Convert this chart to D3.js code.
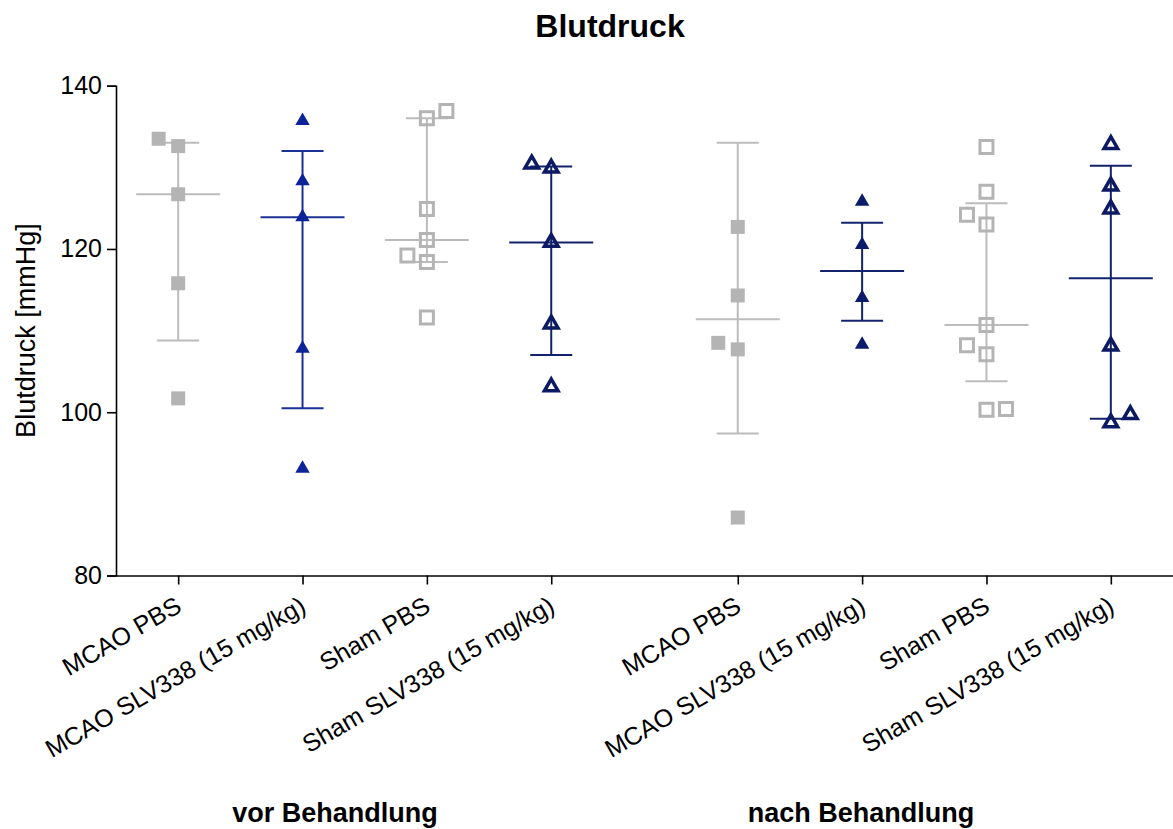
<!DOCTYPE html>
<html>
<head>
<meta charset="utf-8">
<script src="https://cdn.jsdelivr.net/npm/d3@7"></script>
<style>
  body { margin: 0; background: #fff; }
  text { font-family: Arial, "Liberation Sans", sans-serif; fill: #000; }
</style>
</head>
<body>
<div id="chart"></div>
<script>

// Data
var categories = ['MCAO PBS', 'MCAO SLV338 (15 mg/kg)', 'Sham PBS', 'Sham SLV338 (15 mg/kg)'];
var phases = ['vor Behandlung', 'nach Behandlung'];

var values = [
  [133.5, 132.6, 126.7, 115.8, 101.7],
  [135.7, 128.3, 123.9, 107.8, 93.1],
  [136.0, 136.9, 124.9, 121.1, 119.2, 118.4, 111.6],
  [130.4, 129.9, 120.8, 110.8, 103.1],
  [122.7, 114.3, 108.5, 107.7, 87.1],
  [125.8, 120.5, 114.0, 108.3],
  [132.5, 127.0, 124.2, 123.0, 110.7, 108.2, 107.1, 100.3, 100.4],
  [132.8, 127.7, 124.9, 108.1, 99.7, 98.7]
];

// Side slot of each point (scatter spread for overlapping points)
var sides = [
  [-1, 0, 0, 0, 0],
  [0, 0, 0, 0, 0],
  [0, 1, 0, 0, -1, 0, 0],
  [-1, 0, 0, 0, 0],
  [0, 0, -1, 0, 0],
  [0, 0, 0, 0],
  [0, 0, -1, 0, 0, -1, 0, 0, 1],
  [0, 0, 0, 0, 1, 0]
];

var medians = [126.7, 123.9, 121.1, 120.8, 111.4, 117.3, 110.7, 116.4];
var upper = [133.0, 132.0, 136.0, 130.1, 133.0, 123.2, 125.6, 130.2];
var lower = [108.8, 100.5, 118.4, 107.0, 97.4, 111.2, 103.8, 99.2];

var yTicks = [80, 100, 120, 140];

// Build groups: position on the x axis leaves a gap between phases
var groups = [];
phases.forEach(function(phase, p) {
  categories.forEach(function(cat, c) {
    var i = p * categories.length + c;
    groups.push({ index: i, phase: p, cat: c, name: cat,
                  pos: c + p * (categories.length + 0.5),
                  values: values[i], sides: sides[i],
                  median: medians[i], upper: upper[i], lower: lower[i] });
  });
});

// Chart size
var width = 1173, height = 829;
var svg = d3.select('#chart')
            .append('svg')
            .attr('width', width)
            .attr('height', height);

var x = d3.scaleLinear()
    .domain([-0.5, 8])
    .range([116, 1173]);

var y = d3.scaleLinear()
    .domain([80, 140])
    .range([575.5, 85.7]);

// Styles of each category
var gray = '#b4b4b4';
function colorOf(g) {
  if (g.cat == 0 || g.cat == 2) return gray;
  if (g.cat == 1) return g.phase == 0 ? '#0c2497' : '#0b1c6c';
  return '#0b1a62';
}
function lineColorOf(g) {
  if (g.cat == 0 || g.cat == 2) return '#bcbcbc';
  if (g.cat == 1) return g.phase == 0 ? '#1b3195' : '#14236e';
  return '#12226a';
}

// Axes
svg.append('g')
   .attr('transform', 'translate(116,0)')
   .call(d3.axisLeft(y).tickValues(yTicks).tickSize(9).tickPadding(5))
   .call(function(g) {
     g.select('.domain').attr('stroke-width', 1.6);
     g.selectAll('.tick line').attr('stroke-width', 1.6);
     g.selectAll('.tick text').style('font-size', '25px')
      .style('font-family', 'Arial, "Liberation Sans", sans-serif');
   });

var xAxis = d3.axisBottom(x)
    .tickValues(groups.map(function(g) { return g.pos; }))
    .tickSize(9)
    .tickSizeOuter(0)
    .tickFormat('');
svg.append('g')
   .attr('transform', 'translate(0,575.5)')
   .call(xAxis)
   .call(function(g) {
     g.select('.domain').attr('stroke-width', 1.6);
     g.selectAll('.tick line').attr('stroke-width', 1.6);
   });

// Rotated category labels
svg.append('g')
   .selectAll('text')
   .data(groups)
   .enter()
   .append('text')
   .attr('transform', function(d) {
     return 'translate(' + (x(d.pos) - 4) + ',595) rotate(-30)';
   })
   .attr('text-anchor', 'end')
   .attr('dy', '0.72em')
   .style('font-size', '25px')
   .text(function(d) { return d.name; });

// Phase labels
svg.append('g')
   .selectAll('text')
   .data(phases)
   .enter()
   .append('text')
   .attr('x', function(d, i) { return i == 0 ? 335 : 861; })
   .attr('y', 822)
   .attr('text-anchor', 'middle')
   .style('font-size', '27px')
   .style('font-weight', 'bold')
   .text(function(d) { return d; });

// Title
svg.append('text')
   .attr('x', 610)
   .attr('y', 37)
   .attr('text-anchor', 'middle')
   .style('font-size', '32px')
   .style('font-weight', 'bold')
   .text('Blutdruck');

// Y axis title
svg.append('text')
   .attr('transform', 'translate(35,' + ((y(80) + y(140)) / 2) + ') rotate(-90)')
   .attr('text-anchor', 'middle')
   .style('font-size', '27px')
   .text('Blutdruck [mmHg]');

// Median and interquartile range
var bars = svg.append('g')
              .selectAll('g')
              .data(groups)
              .enter()
              .append('g')
              .attr('stroke', lineColorOf)
              .attr('stroke-width', 2);

bars.append('line')
    .attr('x1', function(d) { return x(d.pos); })
    .attr('x2', function(d) { return x(d.pos); })
    .attr('y1', function(d) { return y(d.upper); })
    .attr('y2', function(d) { return y(d.lower); });
bars.append('line')
    .attr('x1', function(d) { return x(d.pos) - 42; })
    .attr('x2', function(d) { return x(d.pos) + 42; })
    .attr('y1', function(d) { return y(d.median); })
    .attr('y2', function(d) { return y(d.median); });
[ 'upper', 'lower' ].forEach(function(k) {
  bars.append('line')
      .attr('x1', function(d) { return x(d.pos) - 21; })
      .attr('x2', function(d) { return x(d.pos) + 21; })
      .attr('y1', function(d) { return y(d[k]); })
      .attr('y2', function(d) { return y(d[k]); });
});

// Points
var points = [];
groups.forEach(function(g) {
  g.values.forEach(function(v, j) {
    points.push({ group: g, value: v, side: g.sides[j] });
  });
});

var symbolFilledSquare = d3.symbol().type(d3.symbolSquare).size(196);
var symbolOpenSquare = d3.symbol().type(d3.symbolSquare).size(169);
var symbolFilledTriangle = d3.symbol().type(d3.symbolTriangle).size(90);
var symbolOpenTriangle = d3.symbol().type(d3.symbolTriangle).size(80);

svg.append('g')
   .selectAll('path')
   .data(points)
   .enter()
   .append('path')
   .attr('transform', function(d) {
     return 'translate(' + (x(d.group.pos) + d.side * 19.5) + ',' + y(d.value) + ')';
   })
   .attr('d', function(d) {
     var c = d.group.cat;
     if (c == 0) return symbolFilledSquare();
     if (c == 1) return symbolFilledTriangle();
     if (c == 2) return symbolOpenSquare();
     return symbolOpenTriangle();
   })
   .attr('fill', function(d) {
     return (d.group.cat == 0 || d.group.cat == 1) ? colorOf(d.group) : 'none';
   })
   .attr('stroke', function(d) {
     return (d.group.cat == 2 || d.group.cat == 3) ? colorOf(d.group) : 'none';
   })
   .attr('stroke-width', function(d) { return d.group.cat == 3 ? 3.5 : 3; })
   .attr('stroke-linejoin', 'miter');

</script>
</body>
</html>
